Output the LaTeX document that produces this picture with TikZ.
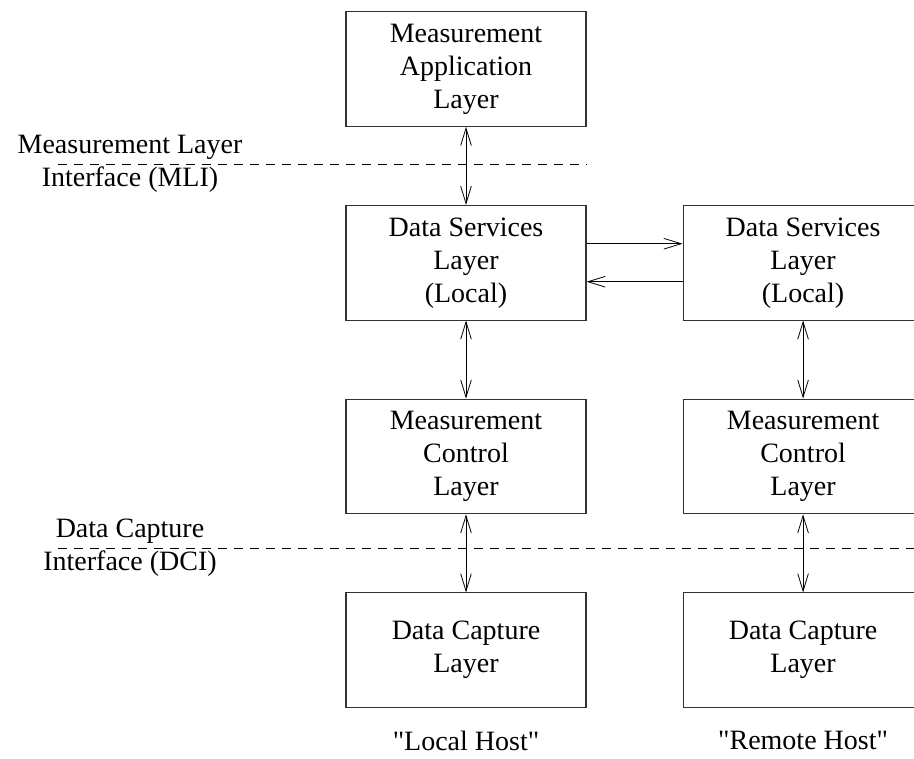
\documentclass[tikz,border=0pt]{standalone}
\usepackage{fontspec}
\setmainfont{Liberation Serif}
\usetikzlibrary{positioning,arrows.meta}

\begin{document}
\begin{tikzpicture}[
    x=0.75pt, y=-0.75pt,
    node distance=58.5pt and 72pt,
    every node/.style={font=\fontsize{21}{24.75}\selectfont, align=center},
    layer/.style={draw=black!80, line width=0.8pt, minimum width=180pt, minimum height=86pt},
    arrow/.style={->, >={Straight Barb[length=13pt, width=8pt]}, line width=0.6pt},
    iface/.style={dash pattern=on 7pt off 5pt, line width=0.6pt}
]
    \useasboundingbox (0,0) rectangle (914,759);
    \clip (0,0) rectangle (914,759);

    % local host column
    \node[layer] (app) at (466,69) {Measurement\\Application\\Layer};
    \node[layer] (dsl) [below=of app] {Data Services\\Layer\\(Local)};
    \node[layer] (mcl) [below=of dsl] {Measurement\\Control\\Layer};
    \node[layer] (dcl) [below=of mcl] {Data Capture\\Layer};

    % remote host column
    \node[layer] (dsr) [right=of dsl] {Data Services\\Layer\\(Local)};
    \node[layer] (mcr) [below=of dsr] {Measurement\\Control\\Layer};
    \node[layer] (dcr) [below=of mcr] {Data Capture\\Layer};

    \node (lhost) [below=14pt of dcl] {\textquotedbl Local Host\textquotedbl};
    \node (rhost) [below=14pt of dcr] {\textquotedbl Remote Host\textquotedbl};

    % interfaces
    \node (mli) at (130,164) {Measurement Layer\\Interface (MLI)};
    \node (dci) at (130,548) {Data Capture\\Interface (DCI)};
    \coordinate (mlistart) at (58,164);
    \coordinate (dcistart) at (58,548);
    \coordinate (dciend) at (914,548);
    \draw[iface] (mlistart) -- (mlistart -| dsl.east);
    \draw[iface] (dcistart) -- (dciend);

    \draw[arrow, <->] (app) -- (dsl);
    \draw[arrow, <->] (dsl) -- (mcl);
    \draw[arrow, <->] (mcl) -- (dcl);
    \draw[arrow, <->] (dsr) -- (mcr);
    \draw[arrow, <->] (mcr) -- (dcr);
    \draw[arrow] ([yshift=14.25pt]dsl.east) -- ([yshift=14.25pt]dsr.west);
    \draw[arrow] ([yshift=-14.25pt]dsr.west) -- ([yshift=-14.25pt]dsl.east);
\end{tikzpicture}
\end{document}
